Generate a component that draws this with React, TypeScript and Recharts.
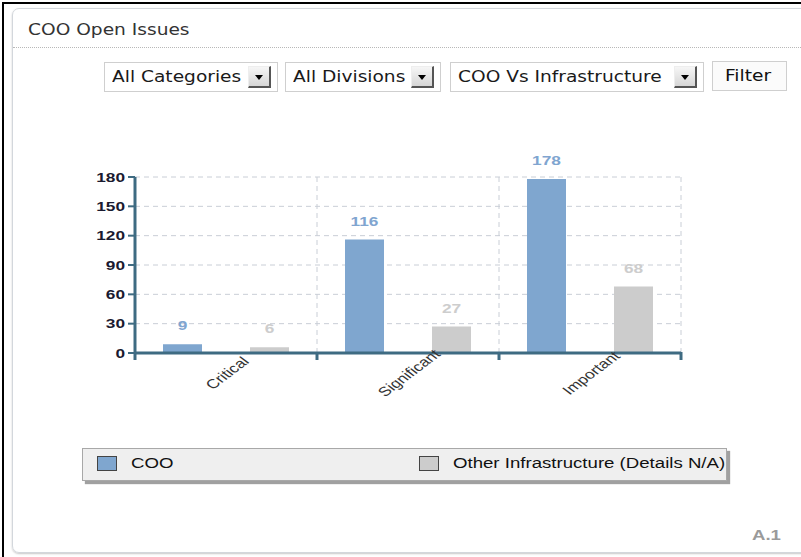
import React from 'react';
import { BarChart, Bar, XAxis, YAxis, CartesianGrid, Legend, LabelList, ReferenceLine } from 'recharts';

const categories = ['Critical', 'Significant', 'Important'];
const cooValues = [9, 116, 178];
const otherValues = [6, 27, 68];
const yTicks = [0, 30, 60, 90, 120, 150, 180];
const boundaryTicks = [0, 1, 2, 3];
const seriesNames = ['COO', 'Other Infrastructure (Details N/A)'];
const seriesColors = ['#7fa6cf', '#cccccc'];
const labelColors = ['#80a5d0', '#cdcdcd'];
const filterLabels = ['All Categories', 'All Divisions', 'COO Vs Infrastructure'];
const titleText = 'COO Open Issues';
const buttonText = 'Filter';
const footerText = 'A.1';

const data = categories.map((c, i) => ({ category: c, pos: i + 0.5, coo: cooValues[i], other: otherValues[i] }));

const AXIS = '#3e6b82';
const GRID = '#c9ced6';
const SX = 1.33;
const ARIAL = '"Liberation Sans", Arial, sans-serif';
const VERDANA = '"DejaVu Sans", Verdana, sans-serif';

const Stretch = ({ k, children, style }: any) => (
  <span style={{ display: 'inline-block', transform: `scaleX(${k})`, transformOrigin: 'left center', whiteSpace: 'nowrap', ...style }}>
    {children}
  </span>
);

const YTick = ({ x, y, payload }: any) => (
  <g transform={`translate(${x - 1},${y}) scale(${SX},1)`}>
    <text textAnchor="end" dy="0.36em" fontFamily={ARIAL} fontWeight="bold" fontSize={13} fill="#1a1a30">
      {payload.value}
    </text>
  </g>
);

const BoundaryTick = ({ x, y }: any) => (
  <line x1={x} x2={x} y1={y - 1} y2={y + 7} stroke={AXIS} strokeWidth={3} />
);

const CatTick = ({ x, y, payload }: any) => (
  <g transform={`translate(${x + 1},${y + 19}) scale(${SX},1) rotate(-45)`}>
    <text textAnchor="middle" dy="0.35em" fontFamily={ARIAL} fontSize={13} fill="#333">
      {payload.value}
    </text>
  </g>
);

const makeLabel = (color: string) => (props: any) => {
  const { x, y, width, value } = props;
  const cx = x + width / 2;
  return (
    <g transform={`translate(${cx},${y - 14}) scale(${SX},1)`}>
      <text textAnchor="middle" fontFamily={ARIAL} fontWeight="bold" fontSize={13} fill={color}>
        {value}
      </text>
    </g>
  );
};

const LegendBox = (props: any) => {
  const payload = props.payload || [];
  return (
    <div
      style={{
        position: 'relative',
        width: 645,
        height: 33,
        boxSizing: 'border-box',
        border: '1px solid #a8a8a8',
        background: '#efefef',
        boxShadow: '3px 3px 1px #a0a0a0',
        overflow: 'hidden',
      }}
    >
      {payload.map((p: any, i: number) => (
        <div key={i} style={{ position: 'absolute', left: 14 + i * 322, top: 0, height: 31, width: 322 }}>
          <div
            style={{
              position: 'absolute',
              left: 0,
              top: 7,
              width: 20,
              height: 15,
              boxSizing: 'border-box',
              border: '1px solid #444',
              background: p.color,
            }}
          />
          <div style={{ position: 'absolute', left: 34, top: 6, lineHeight: '17px', fontFamily: ARIAL, fontSize: 14, color: '#111' }}>
            <Stretch k={SX}>{p.value}</Stretch>
          </div>
        </div>
      ))}
    </div>
  );
};

const boxes = [
  { left: 104, width: 174 },
  { left: 285, width: 156 },
  { left: 450, width: 254 },
];

const Select = ({ left, width, label }: any) => (
  <div
    style={{
      position: 'absolute',
      left,
      top: 62,
      width,
      height: 30,
      boxSizing: 'border-box',
      border: '1px solid #cfcfcf',
      background: '#fff',
    }}
  >
    <div style={{ position: 'absolute', left: 7, top: 5, fontFamily: VERDANA, fontSize: 15, lineHeight: '18px', color: '#1a1a1a' }}>
      <Stretch k={1.24}>{label}</Stretch>
    </div>
    <div
      style={{
        position: 'absolute',
        right: 6,
        top: 3,
        width: 23,
        height: 22,
        boxSizing: 'border-box',
        background: 'linear-gradient(#f6f6f6, #d6d6d6)',
        borderTop: '1px solid #eee',
        borderLeft: '1px solid #eee',
        borderRight: '2px solid #555',
        borderBottom: '2px solid #555',
      }}
    >
      <div
        style={{
          position: 'absolute',
          left: 6,
          top: 8,
          width: 0,
          height: 0,
          borderLeft: '4px solid transparent',
          borderRight: '4px solid transparent',
          borderTop: '5px solid #000',
        }}
      />
    </div>
  </div>
);

export default function App() {
  return (
    <div style={{ position: 'absolute', left: 0, top: 0, width: 801, height: 557, background: '#fff', overflow: 'hidden' }}>
      <div style={{ position: 'absolute', left: 2, top: 2, width: 820, height: 580, borderTop: '2px solid #000', borderLeft: '2px solid #000' }} />
      <div
        style={{
          position: 'absolute',
          left: 12,
          top: 8,
          width: 830,
          height: 545,
          boxSizing: 'border-box',
          border: '1px solid #d3d7dc',
          borderRadius: 7,
          boxShadow: '0 1px 2px #c8c8c8',
        }}
      />
      <div style={{ position: 'absolute', left: 28, top: 21, fontFamily: VERDANA, fontSize: 15, lineHeight: '18px', color: '#333' }}>
        <Stretch k={1.24}>{titleText}</Stretch>
      </div>
      <div style={{ position: 'absolute', left: 13, top: 47, width: 800, borderTop: '1px dotted #b8b8b8' }} />
      {boxes.map((b, i) => (
        <Select key={i} left={b.left} width={b.width} label={filterLabels[i]} />
      ))}
      <div
        style={{
          position: 'absolute',
          left: 712,
          top: 61,
          width: 75,
          height: 30,
          boxSizing: 'border-box',
          border: '1px solid #cfcfcf',
          background: '#fbfbfb',
        }}
      >
        <div style={{ position: 'absolute', left: 12, top: 5, fontFamily: VERDANA, fontSize: 15, lineHeight: '18px', color: '#111' }}>
          <Stretch k={1.24}>{buttonText}</Stretch>
        </div>
      </div>
      <div style={{ position: 'absolute', left: 752, top: 527, fontFamily: ARIAL, fontWeight: 'bold', fontSize: 14, lineHeight: '16px', color: '#9a9a9a' }}>
        <Stretch k={SX}>{footerText}</Stretch>
      </div>

      <div style={{ position: 'absolute', left: 0, top: 0 }}>
        <BarChart
          width={801}
          height={557}
          data={data}
          margin={{ top: 177, right: 120, bottom: 163, left: 75 }}
          barGap={48}
        >
          <CartesianGrid xAxisId="a" vertical={false} stroke={GRID} strokeDasharray="5 4" />
          {boundaryTicks.slice(1).map((t) => (
            <ReferenceLine key={t} xAxisId="a" x={t} stroke={GRID} strokeDasharray="5 4" ifOverflow="visible" />
          ))}
          <XAxis
            xAxisId="b"
            dataKey="category"
            height={40}
            axisLine={false}
            tickLine={false}
            tickSize={0}
            tickMargin={0}
            interval={0}
            tick={<CatTick />}
          />
          <XAxis
            xAxisId="a"
            dataKey="pos"
            type="number"
            domain={[0, 3]}
            ticks={boundaryTicks}
            interval={0}
            allowDataOverflow
            height={1}
            tick={<BoundaryTick />}
            tickSize={0}
            tickMargin={0}
            tickLine={false}
            axisLine={{ stroke: AXIS, strokeWidth: 3 }}
          />
          <YAxis
            domain={[0, 180]}
            ticks={yTicks}
            width={60}
            tickSize={7}
            axisLine={{ stroke: AXIS, strokeWidth: 3 }}
            tickLine={{ stroke: AXIS, strokeWidth: 2 }}
            tick={<YTick />}
          />
          <Bar xAxisId="b" dataKey="coo" name={seriesNames[0]} fill={seriesColors[0]} barSize={39} isAnimationActive={false}>
            <LabelList dataKey="coo" content={makeLabel(labelColors[0])} />
          </Bar>
          <Bar xAxisId="b" dataKey="other" name={seriesNames[1]} fill={seriesColors[1]} barSize={39} isAnimationActive={false}>
            <LabelList dataKey="other" content={makeLabel(labelColors[1])} />
          </Bar>
          <Legend
            layout="horizontal"
            verticalAlign="middle"
            align="center"
            content={<LegendBox />}
            wrapperStyle={{ left: 82, top: 448, width: 650, height: 38 }}
          />
        </BarChart>
      </div>
    </div>
  );
}
